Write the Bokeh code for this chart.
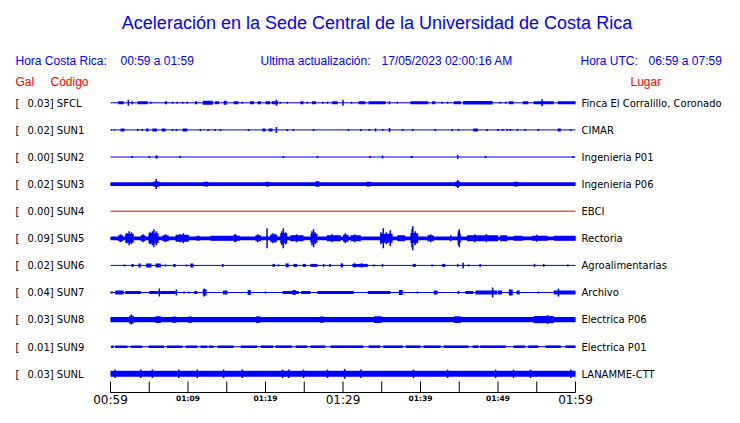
from bokeh.plotting import figure
from bokeh.models import Range1d, ColumnDataSource
from bokeh.core.properties import value
from bokeh.embed import file_html
from bokeh.resources import INLINE

# ---------------- data ----------------
codes = ["SFCL", "SUN1", "SUN2", "SUN3", "SUN4", "SUN5", "SUN6", "SUN7", "SUN8", "SUN9", "SUNL"]
gal = ["0.03", "0.02", "0.00", "0.02", "0.00", "0.09", "0.02", "0.04", "0.03", "0.01", "0.03"]
places = ["Finca El Corralillo, Coronado", "CIMAR", "Ingenieria P01", "Ingenieria P06", "EBCI",
          "Rectoria", "Agroalimentarias", "Archivo", "Electrica P06", "Electrica P01", "LANAMME-CTT"]

# continuous noise level of each trace (half amplitude)
base_level = [0, 0, 0, 1.9, 0, 1.9, 0, 0, 2.7, 0, 3.0]

# bursts: (start minute, end minute, half amplitude)
bursts_sfcl = [(1.0, 1.7, 1.5), (2.7, 2.9, 1.5), (3.5, 4.8, 1.5), (5.1, 5.3, 1), (7.0, 7.3, 1.5), (7.9, 8.1, 1),
               (8.5, 8.7, 1), (9.2, 9.4, 1), (9.8, 10.0, 1), (10.9, 11.2, 1.5), (11.9, 13.2, 2), (13.5, 14.0, 1.5),
               (14.6, 15.0, 2), (15.9, 16.5, 1.5), (16.9, 17.1, 1), (18.0, 18.5, 1.5), (19.0, 19.4, 1.5),
               (20.0, 20.6, 1.5), (20.8, 21.6, 1.5), (21.8, 22.0, 1), (22.7, 22.9, 1), (24.5, 24.9, 1.5),
               (25.3, 25.5, 1), (26.0, 26.5, 1.5), (27.3, 27.5, 1), (27.9, 28.1, 1), (28.6, 29.3, 1.5),
               (31.0, 31.2, 1), (32.0, 32.9, 1.5), (33.3, 35.5, 1.5), (35.9, 36.1, 1.5), (36.9, 37.1, 1),
               (38.7, 41.0, 1.5), (41.5, 41.9, 1.5), (42.7, 42.9, 1), (43.4, 43.6, 1), (44.3, 45.2, 1.5),
               (45.5, 49.3, 1.8), (50.2, 50.4, 1), (50.9, 51.1, 1), (51.4, 52.0, 1.5), (53.2, 53.9, 1.5),
               (54.6, 57.2, 1.5), (57.7, 60.0, 1.5)]
bursts_sun1 = [(0.1, 0.2, 1), (0.5, 0.6, 1), (1.3, 1.8, 1.5), (3.4, 3.6, 1), (4.0, 4.2, 1), (4.6, 4.9, 1.5),
               (5.4, 6.0, 1.5), (6.6, 7.1, 1.5), (7.9, 8.1, 1), (8.4, 8.6, 1), (9.3, 9.9, 1.5), (11.5, 11.7, 1),
               (12.5, 12.7, 1), (13.4, 13.6, 1), (14.1, 14.3, 1), (17.7, 17.9, 1), (19.6, 20.0, 1.5),
               (20.4, 20.9, 1.5), (22.7, 22.9, 1), (23.5, 23.7, 1), (26.1, 26.3, 1), (30.6, 30.8, 1),
               (32.2, 32.4, 1), (33.3, 33.5, 1), (34.1, 34.3, 1.5), (35.0, 35.2, 1), (35.9, 36.1, 2),
               (37.6, 37.8, 1), (38.9, 39.1, 1), (41.8, 42.0, 1), (44.0, 44.2, 1), (44.8, 45.0, 1),
               (46.8, 47.4, 1.5), (48.5, 48.7, 1), (49.9, 50.1, 1), (50.5, 50.7, 1), (51.1, 51.3, 1),
               (51.5, 51.7, 1), (52.4, 52.6, 1), (53.4, 53.6, 1), (55.1, 55.3, 1), (57.7, 58.1, 1.5),
               (59.3, 59.5, 1)]
bursts_sun2 = [(2.7, 2.9, 1), (4.9, 5.1, 1), (5.8, 6.1, 1.5), (8.9, 9.1, 1), (22.2, 22.4, 1), (26.6, 26.8, 1),
               (33.4, 33.6, 1), (35.0, 35.2, 1.5), (38.7, 39.0, 1), (48.3, 48.5, 1), (59.6, 59.8, 1)]
bursts_sun3 = [(5.5, 6.3, 2.7), (12.0, 12.6, 2.3), (20.0, 20.5, 2.3), (26.4, 27.0, 2.5), (33.0, 33.6, 2.3),
               (44.5, 45.1, 2.7), (52.0, 52.6, 2.3)]
bursts_sun4 = []
bursts_sun5 = [(1.0, 1.6, 3), (1.9, 3.0, 4.5), (3.9, 4.5, 3), (4.9, 6.2, 5), (6.7, 7.5, 3), (8.4, 10.1, 3.5),
               (11.1, 11.5, 2.5), (12.9, 16.7, 2.5), (15.9, 16.3, 3.5), (18.7, 19.4, 3), (20.6, 21.5, 3.5),
               (21.9, 22.8, 5), (23.2, 24.9, 3), (25.8, 26.7, 4.5), (27.9, 29.7, 3), (30.0, 30.7, 3.5),
               (31.0, 32.3, 3), (34.8, 36.4, 4.5), (37.0, 38.0, 3), (38.7, 39.7, 5), (40.9, 41.7, 3),
               (43.8, 44.0, 3), (44.8, 45.2, 4.5), (46.0, 50.0, 3), (50.3, 51.2, 3), (52.0, 53.2, 2.5),
               (54.4, 56.4, 2.5), (57.2, 60.0, 2.5)]
bursts_sun6 = [(1.7, 1.9, 1), (2.7, 3.0, 1.5), (3.6, 3.9, 2), (4.6, 5.3, 2), (5.8, 6.5, 2), (7.0, 7.2, 1),
               (8.1, 8.4, 1.5), (9.7, 9.9, 1), (10.3, 10.7, 2), (14.4, 14.6, 1.5), (20.9, 21.2, 1.5),
               (21.6, 21.8, 1), (22.6, 23.0, 2), (23.6, 24.1, 1.5), (24.8, 25.2, 1.5), (25.8, 26.7, 1.5),
               (27.4, 27.6, 1.5), (28.2, 28.4, 1.5), (29.7, 30.0, 2), (31.2, 33.2, 1.5), (33.9, 34.1, 1),
               (35.0, 35.2, 1.5), (39.0, 39.4, 1.5), (41.4, 41.6, 1), (42.8, 43.2, 1.5), (44.7, 44.9, 1.5),
               (46.1, 46.3, 1), (47.6, 47.8, 1.5), (54.6, 54.8, 1.5), (55.8, 56.0, 1.5), (58.9, 59.1, 1)]
bursts_sun7 = [(0.0, 0.3, 1), (0.6, 1.7, 2), (1.9, 3.9, 1.5), (5.0, 6.2, 1.5), (6.4, 8.4, 1.5), (9.4, 9.6, 1),
               (10.0, 10.2, 1), (10.8, 11.2, 1.5), (11.9, 12.4, 3), (14.5, 15.1, 2), (17.7, 18.1, 2.5),
               (19.9, 20.1, 1), (22.2, 24.3, 1.5), (23.5, 23.9, 2.5), (24.6, 25.8, 1.5), (26.7, 31.4, 1.5),
               (33.2, 36.1, 1.5), (37.2, 37.7, 2.5), (39.5, 39.7, 1), (41.7, 42.2, 2), (44.8, 45.0, 1.5),
               (45.8, 46.8, 1.5), (47.1, 49.9, 2), (50.0, 50.5, 2), (51.4, 51.9, 3), (52.4, 52.8, 2),
               (55.1, 55.3, 1), (57.2, 60.0, 2)]
bursts_sun8 = [(2.4, 3.0, 3.8), (5.8, 6.5, 3.3), (8.0, 8.5, 3.1), (10.0, 10.5, 3.1), (18.8, 19.3, 3.3),
               (27.0, 27.5, 3.1), (34.0, 35.0, 3.3), (44.3, 45.2, 3.3), (54.6, 57.2, 3.6)]
bursts_sun9 = [(0.1, 0.4, 1.3), (0.6, 2.2, 1.3), (2.6, 4.1, 1.3), (4.9, 6.9, 1.3), (7.3, 9.3, 1.3),
               (9.7, 11.2, 1.3), (11.6, 12.5, 1.3), (12.7, 13.3, 1.3), (13.8, 15.9, 1.3), (16.8, 18.9, 1.3),
               (19.4, 21.0, 1.3), (21.3, 23.4, 1.3), (23.9, 25.4, 1.3), (25.8, 27.7, 1.3), (28.4, 30.3, 1.3),
               (30.3, 32.6, 1.3), (33.3, 34.8, 1.3), (35.2, 37.7, 1.3), (38.1, 40.0, 1.3), (40.4, 42.6, 1.3),
               (43.0, 46.2, 1.3), (46.7, 47.5, 1.3), (47.7, 51.0, 1.3), (52.0, 53.5, 1.3), (53.9, 55.2, 1.3),
               (56.1, 58.1, 1.3), (58.7, 60.0, 1.3)]
bursts_sunl = []

# spikes: (minute, half amplitude)
spikes_sfcl = [(2.3, 3), (21.4, 3), (30.0, 3), (55.7, 3.5)]
spikes_sun1 = [(21.4, 3)]
spikes_sun2 = [(44.8, 2)]
spikes_sun3 = [(5.9, 5), (26.7, 3), (44.8, 4)]
spikes_sun4 = []
spikes_sun5 = [(1.3, 4), (2.1, 5), (2.4, 7), (2.7, 6), (4.2, 4), (5.1, 6), (5.4, 7), (5.6, 9), (5.9, 7),
               (7.1, 4), (9.0, 4), (9.4, 5), (16.1, 4), (19.0, 4), (20.2, 10), (20.9, 5), (21.2, 4.5),
               (22.1, 7), (22.3, 10), (22.6, 6), (24.0, 4), (26.0, 7), (26.2, 9), (26.4, 6), (28.6, 4),
               (30.3, 5), (31.5, 4), (34.9, 6), (35.2, 10), (35.6, 6), (36.1, 8), (38.9, 9), (39.0, 12),
               (39.3, 7), (41.3, 4), (44.9, 7), (45.0, 9), (47.0, 4), (48.5, 4), (55.0, 3.5)]
spikes_sun6 = [(31.5, 2.2), (32.4, 2.2), (45.5, 3)]
spikes_sun7 = [(6.3, 4), (8.5, 3), (12.1, 4), (49.3, 5), (57.8, 4)]
spikes_sun8 = [(2.7, 5), (56.4, 4.5)]
spikes_sun9 = []
spikes_sunl = [(0.6, 4.2), (3.9, 4.2), (5.4, 4.2), (8.8, 4.2), (11.2, 4.2), (14.6, 4.2), (17.0, 4.2),
               (22.2, 4.2), (23.0, 4.2), (24.9, 4.2), (28.0, 4.2), (30.2, 5), (32.3, 4.2), (39.1, 4.2),
               (43.5, 4.2), (49.7, 4.2), (52.0, 4.2), (54.2, 4.2), (59.4, 4.2)]

all_bursts = [bursts_sfcl, bursts_sun1, bursts_sun2, bursts_sun3, bursts_sun4, bursts_sun5,
              bursts_sun6, bursts_sun7, bursts_sun8, bursts_sun9, bursts_sunl]
all_spikes = [spikes_sfcl, spikes_sun1, spikes_sun2, spikes_sun3, spikes_sun4, spikes_sun5,
              spikes_sun6, spikes_sun7, spikes_sun8, spikes_sun9, spikes_sunl]

tick_minutes = [0, 5, 10, 15, 20, 25, 30, 35, 40, 45, 50, 55, 60]
major_minutes = [0, 30, 60]
major_labels = ["00:59", "01:29", "01:59"]
minor_minutes = [10, 20, 40, 50]
minor_labels = ["01:09", "01:19", "01:39", "01:49"]
span_minutes = 60

# ---------------- layout / style ----------------
W, H = 724, 407
X0_PX, PX_PER_MIN = 110.0, 7.75
ROW_Y0, ROW_DY = 102.3, 27.1
BLUE = "#0000ff"
RED = "#ff0000"
TRACE_RED = "#d01010"


def mx(px):
    return (px - X0_PX) / PX_PER_MIN


def row_y(i):
    return ROW_Y0 + ROW_DY * i


p = figure(width=W, height=H, output_backend="svg", toolbar_location=None,
           x_range=Range1d(mx(0), mx(W)), y_range=Range1d(H, 0),
           x_axis_location=None, y_axis_location=None, min_border=0,
           outline_line_color=None)
p.grid.visible = False
p.min_border_left = p.min_border_right = p.min_border_top = p.min_border_bottom = 0

# traces
for i, code in enumerate(codes):
    yc = row_y(i)
    color = TRACE_RED if code == "SUN4" else BLUE
    p.segment(x0=[0], y0=[yc], x1=[span_minutes], y1=[yc], line_color=color, line_width=1)
    if base_level[i] > 0:
        p.quad(left=[0], right=[span_minutes], top=[yc - base_level[i]], bottom=[yc + base_level[i]],
               fill_color=color, line_color=None)
    b = all_bursts[i]
    if b:
        src = ColumnDataSource(dict(
            left=[t0 for t0, t1, a in b], right=[t1 for t0, t1, a in b],
            top=[yc - a for t0, t1, a in b], bottom=[yc + a for t0, t1, a in b]))
        p.quad(left="left", right="right", top="top", bottom="bottom", source=src,
               fill_color=color, line_color=None)
    s = all_spikes[i]
    if s:
        src = ColumnDataSource(dict(
            x=[t for t, a in s], y0=[yc - a for t, a in s], y1=[yc + a for t, a in s]))
        p.segment(x0="x", y0="y0", x1="x", y1="y1", source=src, line_color=color, line_width=1.5)

# station labels
lab = ColumnDataSource(dict(
    xb=[mx(15)] * len(codes),
    xg=[mx(27)] * len(codes),
    xp=[mx(581)] * len(codes),
    y=[row_y(i) + 0.3 for i in range(len(codes))],
    bracket=["["] * len(codes),
    left=[f"{g}] {c}" for g, c in zip(gal, codes)],
    place=places))
common = dict(text_font=value("DejaVu Sans"), text_font_size="10px", text_baseline="middle",
              text_color="#000000", text_align="left", source=lab)
p.text(x="xb", y="y", text="bracket", **common)
p.text(x="xg", y="y", text="left", **common)
p.text(x="xp", y="y", text="place", **common)

# title and header
p.text(x=[mx(376.5)], y=[22], text=["Aceleración en la Sede Central de la Universidad de Costa Rica"],
       text_font=value("Liberation Sans"), text_font_size="18px", text_color=BLUE,
       text_align="center", text_baseline="middle")
hdr = dict(text_font=value("Liberation Sans"), text_font_size="12px", text_align="left",
           text_baseline="middle")
p.text(x=[mx(15), mx(120), mx(260), mx(381), mx(580), mx(648)], y=[60.3] * 6,
       text=["Hora Costa Rica:", "00:59 a 01:59", "Ultima actualización:", "17/05/2023 02:00:16 AM",
             "Hora UTC:", "06:59 a 07:59"], text_color=BLUE, **hdr)
p.text(x=[mx(15), mx(50), mx(630)], y=[81] * 3, text=["Gal", "Código", "Lugar"],
       text_color=RED, **hdr)

# time axis
AX_Y = 392
p.segment(x0=[0], y0=[AX_Y], x1=[span_minutes], y1=[AX_Y], line_color="#000000", line_width=1)
p.segment(x0=tick_minutes, y0=[AX_Y - 11] * len(tick_minutes), x1=tick_minutes,
          y1=[AX_Y] * len(tick_minutes), line_color="#000000", line_width=1)
p.text(x=major_minutes, y=[399.5] * len(major_minutes), text=major_labels,
       text_font=value("DejaVu Sans"), text_font_size="12px", text_align="center",
       text_baseline="middle", text_color="#000000")
p.text(x=minor_minutes, y=[398] * len(minor_minutes), text=minor_labels,
       text_font=value("DejaVu Sans"), text_font_size="7.5px", text_font_style="bold",
       text_align="center", text_baseline="middle", text_color="#000000")

open("out.html", "w").write(file_html(p, INLINE))
